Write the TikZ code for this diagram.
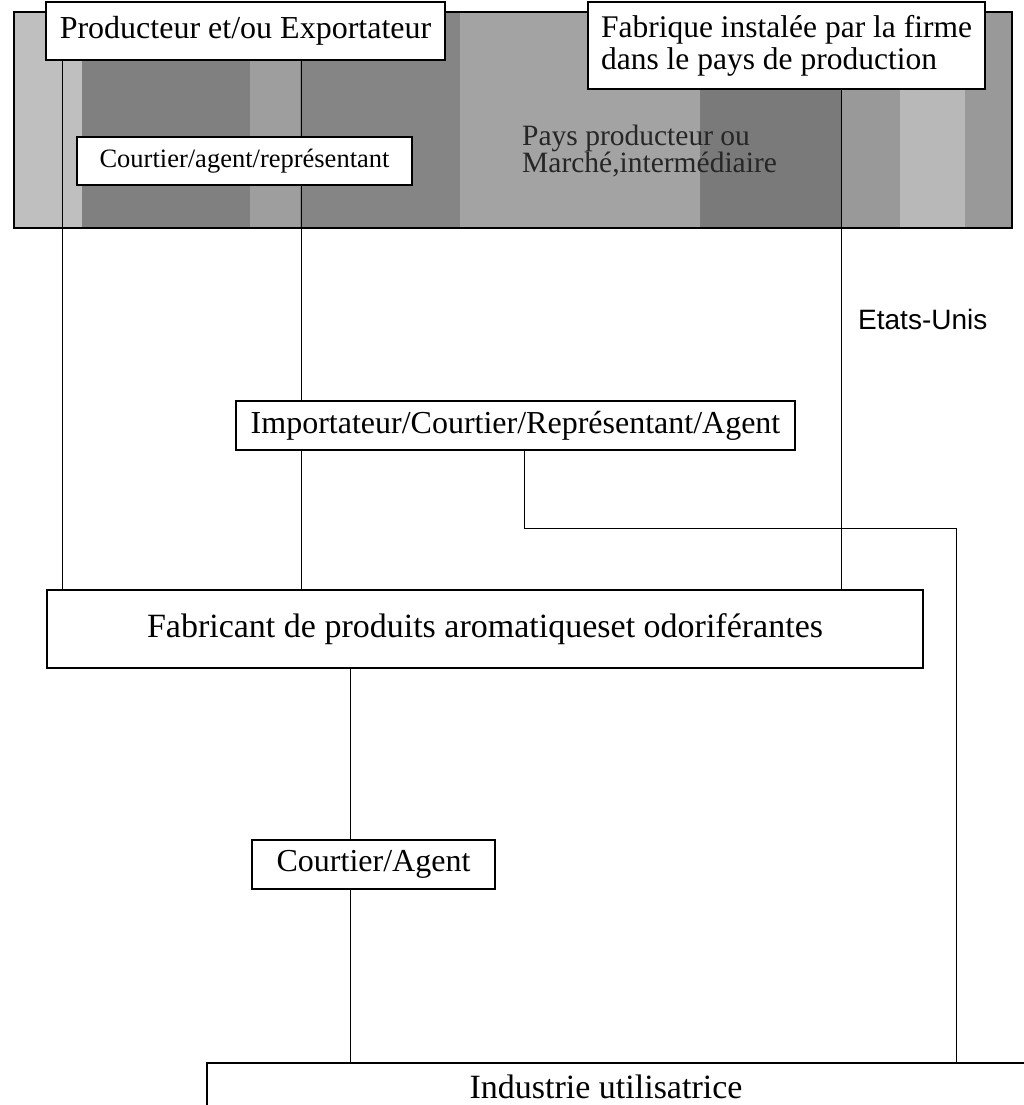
\documentclass[tikz,border=0pt]{standalone}
\usepackage{fontspec}
\setmainfont{Liberation Serif}
\newfontfamily\arialfont{Liberation Sans}
\usetikzlibrary{positioning}

\begin{document}
\begin{tikzpicture}[x=1pt, y=-1pt,
  box/.style={draw, line width=1.3pt, fill=white, inner sep=0pt,
              align=center, font=\fontsize{32}{34}\selectfont},
  link/.style={line width=0.9pt},
  band/.style={draw, line width=1.3pt},
  lbl/.style={inner sep=0pt, align=left}
]
\useasboundingbox (0,0) rectangle (1023,1105);

% bande grise : pays producteur
\fill[black!42] (14,12) rectangle (1012,228);
\fill[black!25] (14,12) rectangle (82,228);
\fill[black!50] (82,12) rectangle (250,228);
\fill[black!38] (250,12) rectangle (300,228);
\fill[black!48] (300,12) rectangle (460,228);
\fill[black!36] (460,12) rectangle (700,228);
\fill[black!52] (700,12) rectangle (842,228);
\fill[black!40] (842,12) rectangle (900,228);
\fill[black!28] (900,12) rectangle (965,228);
\fill[black!40] (965,12) rectangle (1012,228);
\draw[band] (14,12) rectangle (1012,228);

\node[box, minimum width=399pt, minimum height=58pt] (prod) at (245.5,31)
  {Producteur et/ou Exportateur};
\node[box, minimum width=397pt, minimum height=87pt, align=left,
      font=\fontsize{31.5}{32}\selectfont] (fab) at (786.5,45.5)
  {Fabrique instalée par la firme\\dans le pays de production};
\node[box, minimum width=335pt, minimum height=48pt,
      font=\fontsize{26.5}{28}\selectfont] (cour1) at (244.5,161)
  {Courtier/agent/représentant};
\node[lbl, anchor=west, text=black!85,
      font=\fontsize{29.5}{27}\selectfont] (pays) at (522,151)
  {Pays producteur ou\\Marché,intermédiaire};
\node[lbl, anchor=west, font=\arialfont\fontsize{28}{30}\selectfont]
  (etats) at (858,319) {Etats-Unis};

\node[box, minimum width=559pt, minimum height=49pt] (imp) at (515.5,425.5)
  {Importateur/Courtier/Représentant/Agent};
\node[box, minimum width=876pt, minimum height=78pt,
      font=\fontsize{34}{36}\selectfont] (fabr) at (485,629)
  {Fabricant de produits aromatiqueset odoriférantes};
\node[box, minimum width=243pt, minimum height=49pt] (cour2) at (373.5,864.5)
  {Courtier/Agent};
\node[box, minimum width=820pt, minimum height=48pt,
      font=\fontsize{34}{36}\selectfont] (ind) at (617,1087)
  {Industrie utilisatrice\hspace*{22pt}};

% abscisses des liaisons
\coordinate (xa) at (62,0);
\coordinate (xb) at (301,0);
\coordinate (xc) at (841,0);
\coordinate (xf) at (350,0);
\coordinate (bend1) at (524,528);
\coordinate (bend2) at (956,528);

\draw[link] (prod.south -| xa) -- (fabr.north -| xa);
\draw[link] (prod.south -| xb) -- (cour1.north -| xb);
\draw[link] (cour1.south -| xb) -- (imp.north -| xb);
\draw[link] (imp.south -| xb) -- (fabr.north -| xb);
\draw[link] (fab.south -| xc) -- (fabr.north -| xc);
\draw[link] (imp.south -| bend1) -- (bend1) -- (bend2) -- (ind.north -| bend2);
\draw[link] (fabr.south -| xf) -- (cour2.north -| xf);
\draw[link] (cour2.south -| xf) -- (ind.north -| xf);
\end{tikzpicture}
\end{document}
